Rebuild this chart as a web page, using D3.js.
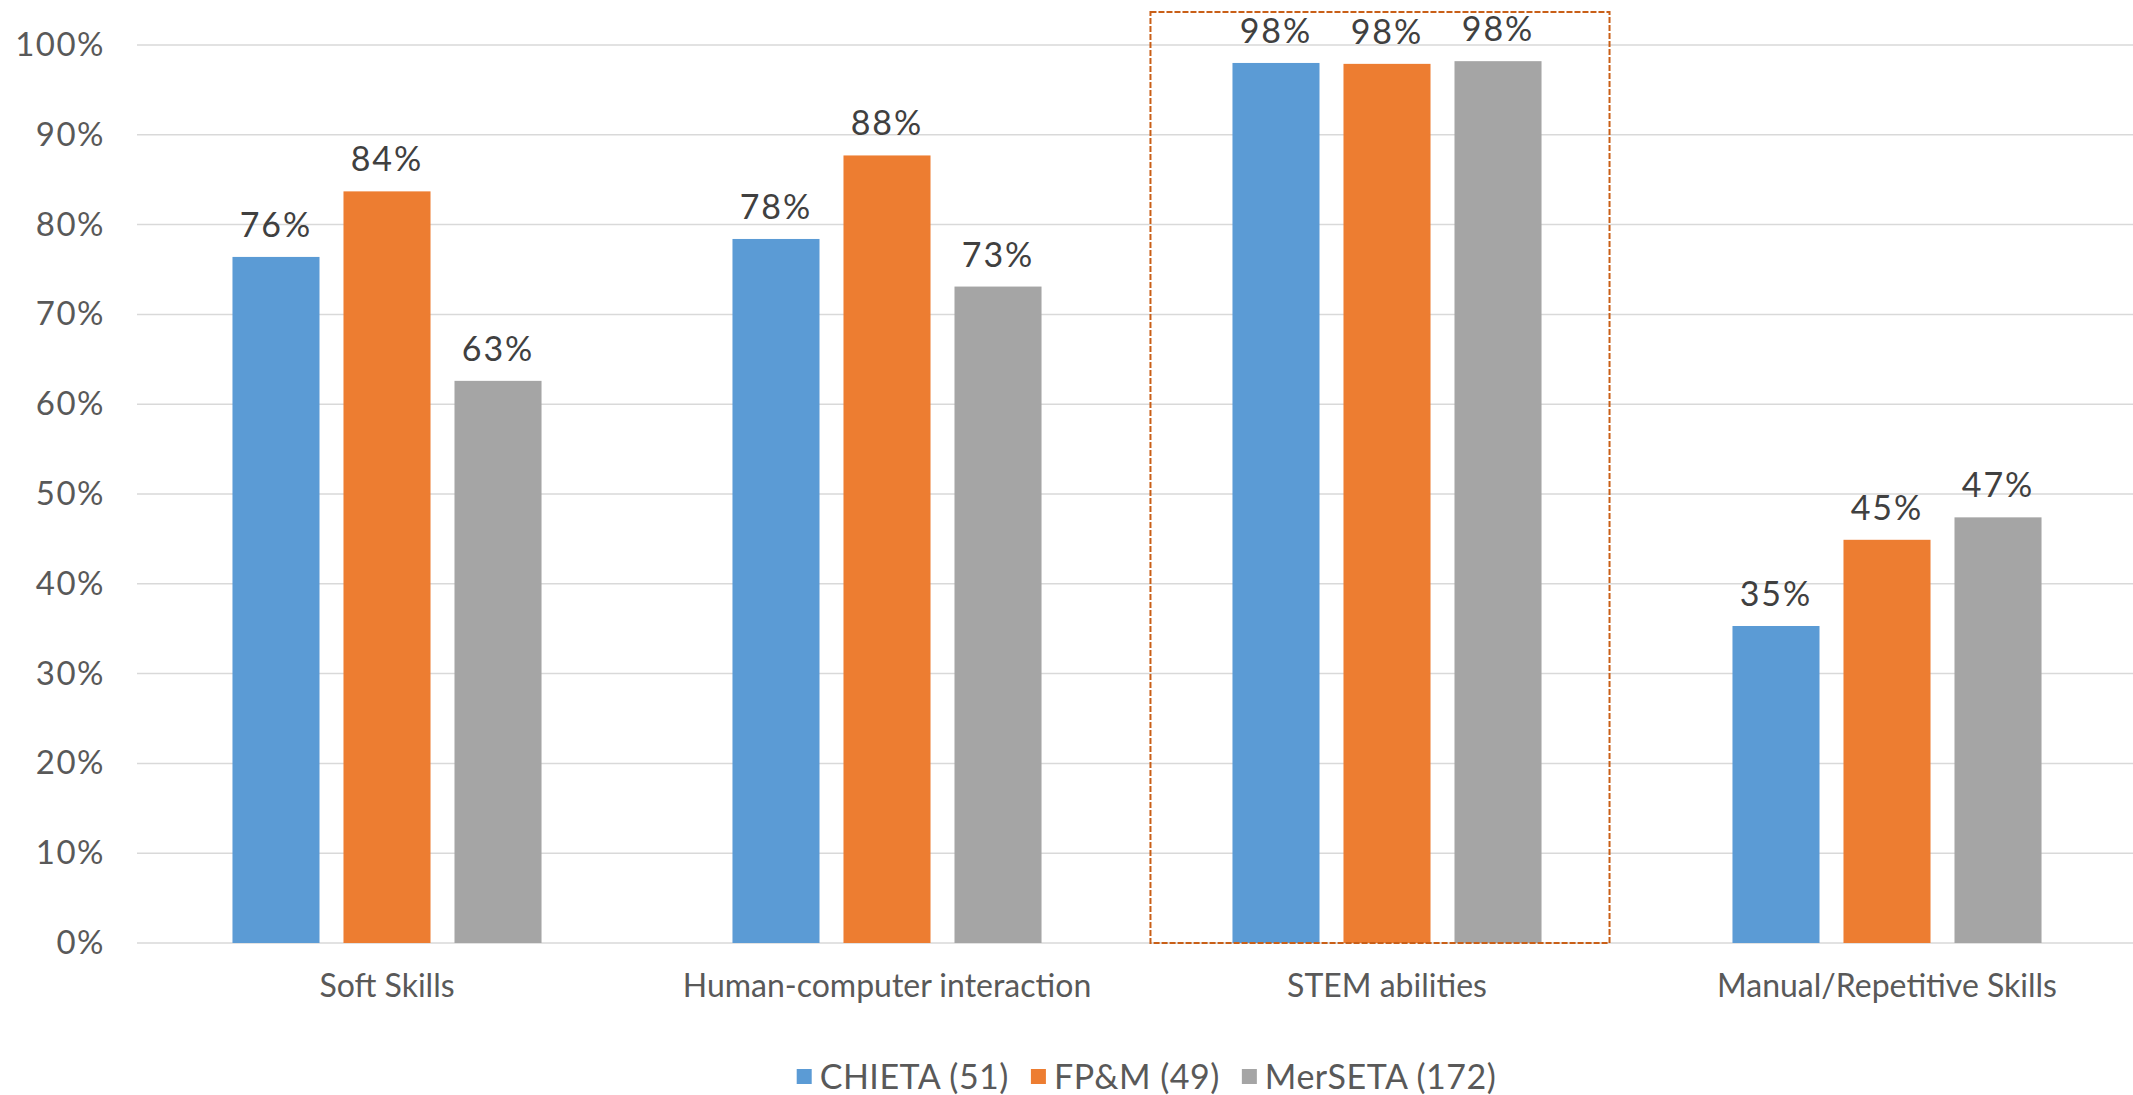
<!DOCTYPE html>
<html>
<head>
<meta charset="utf-8">
<script src="https://cdn.jsdelivr.net/npm/d3@7"></script>
<style>
  html, body { margin: 0; padding: 0; background: #fff; }
  svg { display: block; font-family: "Lato", "Open Sans", sans-serif; }
</style>
</head>
<body>
<svg id="chart" width="2133" height="1095"></svg>
<script>
// Skill categories and share of respondents per SETA
const categories = ["Soft Skills", "Human-computer interaction", "STEM abilities", "Manual/Repetitive Skills"];
const seriesNames = ["CHIETA (51)", "FP&M (49)", "MerSETA (172)"];
const chieta  = [0.764, 0.784, 0.980, 0.353];
const fpm     = [0.837, 0.877, 0.979, 0.449];
const merseta = [0.626, 0.731, 0.982, 0.474];
const yTicks  = [0, 0.1, 0.2, 0.3, 0.4, 0.5, 0.6, 0.7, 0.8, 0.9, 1.0];
const highlighted = "STEM abilities";

const colors = ["#5b9bd5", "#ed7d31", "#a5a5a5"];
const seriesValues = [chieta, fpm, merseta];

const width = 2133, height = 1095;
const margin = { top: 45, right: -4, bottom: 152, left: 137 };
const svg = d3.select("#chart");
const FONT = "Lato, 'Open Sans', sans-serif";

const x0 = d3.scaleBand()
  .domain(categories)
  .range([margin.left, width - margin.right])
  .padding(0);

const x1 = d3.scaleBand()
  .domain(seriesNames)
  .range([0, x0.bandwidth()])
  .paddingInner(0.216)
  .paddingOuter(0.86);

const y = d3.scaleLinear()
  .domain([0, 1])
  .range([height - margin.bottom, margin.top]);

// Horizontal gridlines
svg.append("g")
  .selectAll("line")
  .data(yTicks)
  .join("line")
  .attr("x1", margin.left)
  .attr("x2", width)
  .attr("y1", d => y(d))
  .attr("y2", d => y(d))
  .attr("stroke", "#d9d9d9")
  .attr("stroke-width", 1.5);

// Y axis labels
const pct = d3.format(".0%");
const yAxis = d3.axisLeft(y).tickValues(yTicks).tickFormat(pct).tickSize(0).tickPadding(32);
const yg = svg.append("g").attr("transform", `translate(${margin.left},0)`).call(yAxis);
yg.select(".domain").remove();
yg.selectAll("text")
  .attr("fill", "#595959")
  .style("font-size", "33px")
  .style("letter-spacing", "1.5px")
  .style("font-family", FONT);

// X axis category labels
const xAxis = d3.axisBottom(x0).tickSize(0).tickPadding(31);
const xg = svg.append("g").attr("transform", `translate(0,${y(0)})`).call(xAxis);
xg.select(".domain").remove();
xg.selectAll("text")
  .attr("fill", "#595959")
  .style("font-size", "32px")
  .style("font-family", FONT);

// Bars grouped by category
const rows = categories.map((c, i) => ({
  category: c,
  values: seriesNames.map((s, j) => ({ series: s, value: seriesValues[j][i], color: colors[j] }))
}));

const groups = svg.append("g")
  .selectAll("g")
  .data(rows)
  .join("g")
  .attr("transform", d => `translate(${x0(d.category)},0)`);

groups.selectAll("rect")
  .data(d => d.values)
  .join("rect")
  .attr("x", d => x1(d.series))
  .attr("width", x1.bandwidth())
  .attr("y", d => y(d.value))
  .attr("height", d => y(0) - y(d.value))
  .attr("fill", d => d.color);

groups.selectAll("text.val")
  .data(d => d.values)
  .join("text")
  .attr("class", "val")
  .attr("x", d => x1(d.series) + x1.bandwidth() / 2)
  .attr("y", d => y(d.value) - 20)
  .attr("text-anchor", "middle")
  .attr("fill", "#404040")
  .style("font-size", "34px")
  .style("letter-spacing", "2px")
  .text(d => pct(d.value));

// Dashed highlight box around one category
const hx = x0(highlighted);
const firstBar = hx + x1(seriesNames[0]);
const lastBar = hx + x1(seriesNames[seriesNames.length - 1]) + x1.bandwidth();
svg.append("rect")
  .attr("x", firstBar - 82)
  .attr("y", y(1) - 33)
  .attr("width", (lastBar + 68) - (firstBar - 82))
  .attr("height", y(0) - (y(1) - 33))
  .attr("fill", "none")
  .attr("stroke", "#c95f17")
  .attr("stroke-width", 2)
  .attr("stroke-dasharray", "6,2");

// Legend, centred under the plot
const legend = svg.append("g").attr("transform", `translate(0,1077)`);
const items = legend.selectAll("g")
  .data(seriesNames)
  .join("g");
items.append("rect")
  .attr("width", 15).attr("height", 15)
  .attr("y", -8)
  .attr("fill", (d, i) => colors[i]);
items.append("text")
  .attr("x", 23)
  .attr("dy", "0.35em")
  .attr("fill", "#595959")
  .style("font-size", "34px")
  .style("letter-spacing", "0.5px")
  .text(d => d);

const gap = 22;
let cursor = 0;
const offsets = [];
items.each(function () {
  offsets.push(cursor);
  cursor += this.getBBox().width + gap;
});
const total = cursor - gap;
const startX = (width - total) / 2 + 80;
items.attr("transform", (d, i) => `translate(${startX + offsets[i]},0)`);
</script>
</body>
</html>
